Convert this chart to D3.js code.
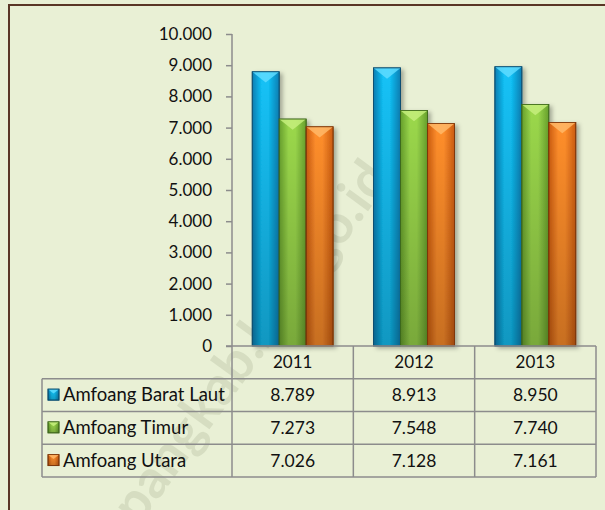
<!DOCTYPE html>
<html lang="id">
  <head>
    <meta charset="utf-8">
    <title>Chart</title>
    <script type="text/javascript" src="https://d3js.org/d3.v7.min.js"></script>
    <style>
      body { margin: 0; background: #fff; }
      text { font-family: Lato, "Open Sans", sans-serif; fill: #111; }
    </style>
  </head>
  <body>
    <script type="text/javascript">
    var years = ["2011", "2012", "2013"];
    var seriesNames = ["Amfoang Barat Laut", "Amfoang Timur", "Amfoang Utara"];
    var baratLaut = [8789, 8913, 8950];
    var timur = [7273, 7548, 7740];
    var utara = [7026, 7128, 7161];
    var yTicks = [0, 1000, 2000, 3000, 4000, 5000, 6000, 7000, 8000, 9000, 10000];

    var values = [baratLaut, timur, utara];
    // colours: edge, centre, top bevel, outline
    var colors = [
      ["#0a7fb4", "#12c2f7", "#5fdcff", "#0a4d70"],
      ["#67a02c", "#9bd84c", "#c6ef7c", "#3f6a1c"],
      ["#cc5c10", "#ff8e2c", "#ffb868", "#7e3608"]
    ];

    var w = 605, h = 510;
    var svg = d3.select("body").append("svg").attr("width", w).attr("height", h);

    var loc = d3.formatLocale({decimal: ",", thousands: ".", grouping: [3], currency: ["", ""]});
    var fmt = loc.format(",");

    var x = d3.scaleBand().domain(years).range([232, 596]);
    var xs = d3.scaleBand().domain(d3.range(3)).range([0, x.bandwidth()]).paddingOuter(0.75).paddingInner(0);
    var y = d3.scaleLinear().domain([0, 10000]).range([346, 34]);
    var rowY = d3.scaleLinear().domain([0, 4]).range([346, 477]);

    var defs = svg.append("defs");
    colors.forEach(function(c, i) {
      var g = defs.append("linearGradient").attr("id", "g" + i).attr("x1", 0).attr("x2", 1).attr("y1", 0).attr("y2", 0);
      g.append("stop").attr("offset", "0%").attr("stop-color", c[0]);
      g.append("stop").attr("offset", "35%").attr("stop-color", c[1]);
      g.append("stop").attr("offset", "60%").attr("stop-color", c[1]);
      g.append("stop").attr("offset", "100%").attr("stop-color", c[0]);
    });
    var vg = defs.append("linearGradient").attr("id", "shade").attr("x1", 0).attr("x2", 0).attr("y1", 0).attr("y2", 1);
    vg.append("stop").attr("offset", "0%").attr("stop-color", "#000").attr("stop-opacity", 0);
    vg.append("stop").attr("offset", "100%").attr("stop-color", "#000").attr("stop-opacity", 0.22);
    var f = defs.append("filter").attr("id", "sh").attr("x", "-20%").attr("y", "-5%").attr("width", "160%").attr("height", "115%");
    f.append("feDropShadow").attr("dx", 3).attr("dy", 2).attr("stdDeviation", 2).attr("flood-color", "#000").attr("flood-opacity", 0.3);

    // background + border
    svg.append("rect").attr("x", 0).attr("y", 0).attr("width", w).attr("height", h).attr("fill", "#e9f0d5");
    svg.append("rect").attr("x", 9).attr("y", 5).attr("width", w + 20).attr("height", h + 20)
      .attr("fill", "none").attr("stroke", "#5a3626").attr("stroke-width", 2);

    // watermark
    svg.append("text").attr("transform", "translate(392,178) rotate(-54)")
      .attr("text-anchor", "end").style("font-size", "54px").style("font-weight", "bold")
      .style("fill", "#7f8868").style("fill-opacity", 0.18).text("kupangkab.bps.go.id");

    // y axis
    var yAxis = d3.axisLeft(y).tickValues(yTicks).tickFormat(fmt).tickSize(6).tickPadding(14);
    var ga = svg.append("g").attr("transform", "translate(232,0)").call(yAxis);
    ga.select(".domain").attr("stroke", "#8c8c8c").attr("stroke-width", 1.5).attr("d", "M0," + y(10000) + "V" + y(0));
    ga.selectAll(".tick line").attr("stroke", "#8c8c8c").attr("stroke-width", 1.5);
    ga.selectAll(".tick text").style("font-size", "17px").style("font-family", "Lato, sans-serif").attr("fill", "#111");

    // bars
    function drawBar(sel, x0, bw, top, bottom, i) {
      var c = colors[i];
      sel.append("rect").attr("x", x0).attr("y", top).attr("width", bw).attr("height", bottom - top)
        .attr("fill", "url(#g" + i + ")").attr("stroke", c[3]).attr("stroke-width", 0.8).attr("filter", "url(#sh)");
      sel.append("rect").attr("x", x0).attr("y", top).attr("width", bw).attr("height", bottom - top).attr("fill", "url(#shade)");
      var bv = Math.min(bw * 0.4, (bottom - top) / 2);
      sel.append("path").attr("d", "M" + x0 + "," + top + "H" + (x0 + bw) + "L" + (x0 + bw / 2) + "," + (top + bv) + "Z")
        .attr("fill", c[2]).attr("opacity", 0.85);
      sel.append("rect").attr("x", x0).attr("y", top).attr("width", bw).attr("height", bottom - top)
        .attr("fill", "none").attr("stroke", c[3]).attr("stroke-width", 0.8);
    }
    var bars = svg.append("g");
    values.forEach(function(vals, i) {
      years.forEach(function(yr, j) {
        drawBar(bars.append("g"), x(yr) + xs(i), xs.bandwidth(), y(vals[j]), y(0), i);
      });
    });

    // table grid
    var grid = svg.append("g").attr("stroke", "#8c8c8c").attr("stroke-width", 1.5).attr("fill", "none");
    grid.append("line").attr("x1", 226).attr("x2", 596).attr("y1", rowY(0)).attr("y2", rowY(0));
    for (var r = 1; r <= 4; r++) {
      grid.append("line").attr("x1", 42).attr("x2", 596).attr("y1", rowY(r)).attr("y2", rowY(r));
    }
    grid.append("line").attr("x1", 42).attr("x2", 42).attr("y1", rowY(1)).attr("y2", rowY(4));
    grid.append("line").attr("x1", 232).attr("x2", 232).attr("y1", rowY(0)).attr("y2", rowY(4));
    years.forEach(function(yr) {
      grid.append("line").attr("x1", x(yr) + x.bandwidth()).attr("x2", x(yr) + x.bandwidth())
        .attr("y1", rowY(0)).attr("y2", rowY(4));
    });

    // header
    svg.append("g").selectAll("text").data(years).enter().append("text")
      .attr("x", function(d) { return x(d) + x.bandwidth() / 2; })
      .attr("y", (rowY(0) + rowY(1)) / 2 + 6)
      .attr("text-anchor", "middle").style("font-size", "17px").text(function(d) { return d; });

    // rows
    seriesNames.forEach(function(name, i) {
      var cy = (rowY(i + 1) + rowY(i + 2)) / 2;
      var key = svg.append("g");
      drawBar(key, 48, 11, cy - 6, cy + 5, i);
      key.select("rect").attr("filter", null);
      svg.append("text").attr("x", 63).attr("y", cy + 6).style("font-size", "18.5px").text(name);
      years.forEach(function(yr, j) {
        svg.append("text").attr("x", x(yr) + x.bandwidth() / 2).attr("y", cy + 6)
          .attr("text-anchor", "middle").style("font-size", "17.5px").text(fmt(values[i][j]));
      });
    });
    </script>
  </body>
</html>
